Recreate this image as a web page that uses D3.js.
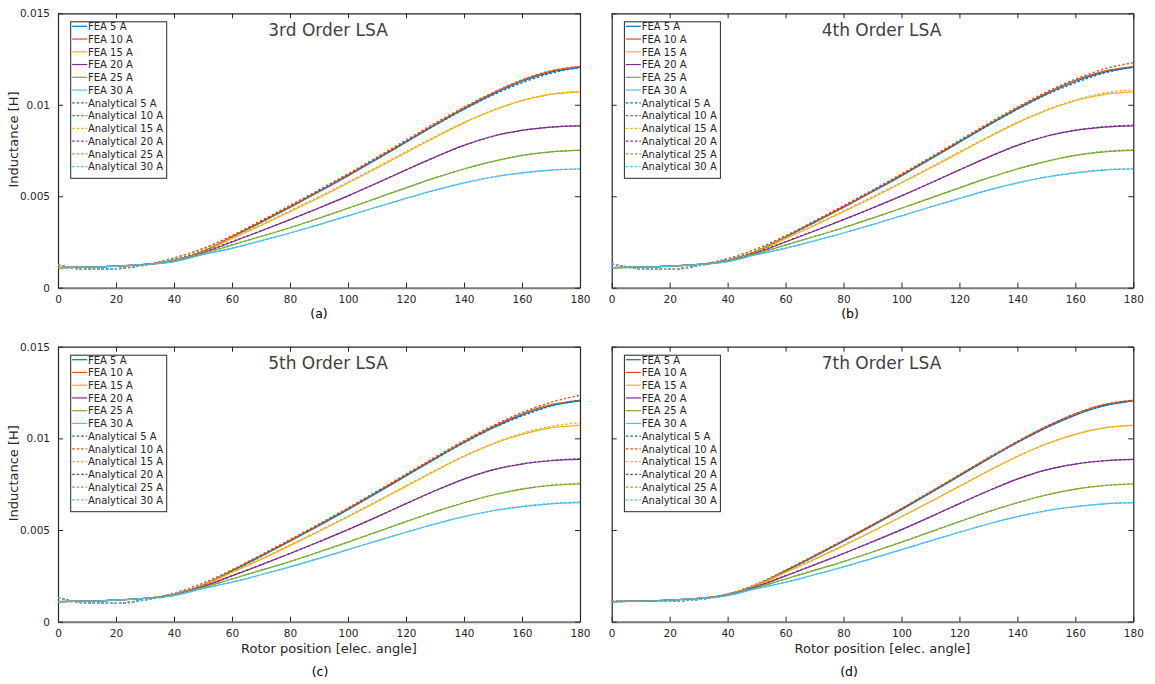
<!DOCTYPE html>
<html>
<head>
<meta charset="utf-8">
<script src="https://cdn.jsdelivr.net/npm/d3@7"></script>
<style>
  html, body { margin: 0; padding: 0; background: #fff; }
  svg { display: block; font-family: "DejaVu Sans", Verdana, sans-serif; }
</style>
</head>
<body>
<svg id="chart" width="1155" height="684"></svg>
<script>
// ---------------- DATA ----------------
const angles = [0,10,20,30,40,50,60,70,80,90,100,110,120,130,140,150,160,170,180];
const currents = ["5 A","10 A","15 A","20 A","25 A","30 A"];
const xTicks = [0,20,40,60,80,100,120,140,160,180];
const yTicks = [0,0.005,0.01,0.015];
const yTickLabels = ["0","0.005","0.01","0.015"];
const panelTitles = ["3rd Order LSA","4th Order LSA","5th Order LSA","7th Order LSA"];
const panelCaptions = ["(a)","(b)","(c)","(d)"];

// FEA inductance [H]
const fea5  = [0.00110,0.00112,0.00118,0.00128,0.00148,0.00198,0.00276,0.00356,0.00439,0.00524,0.00611,0.00702,0.00795,0.00888,0.00977,0.01058,0.01127,0.01178,0.01204];
const fea10 = [0.00110,0.00112,0.00118,0.00128,0.00148,0.00200,0.00279,0.00360,0.00443,0.00528,0.00616,0.00707,0.00800,0.00893,0.00982,0.01064,0.01134,0.01184,0.01208];
const fea15 = [0.00110,0.00112,0.00118,0.00128,0.00147,0.00196,0.00268,0.00340,0.00415,0.00492,0.00572,0.00654,0.00738,0.00822,0.00901,0.00969,0.01022,0.01057,0.01071];
const fea20 = [0.00110,0.00112,0.00118,0.00127,0.00145,0.00190,0.00250,0.00310,0.00372,0.00436,0.00502,0.00572,0.00644,0.00714,0.00778,0.00828,0.00860,0.00878,0.00885];
const fea25 = [0.00110,0.00112,0.00118,0.00127,0.00143,0.00185,0.00233,0.00280,0.00328,0.00380,0.00434,0.00490,0.00546,0.00600,0.00649,0.00691,0.00723,0.00743,0.00751];
const fea30 = [0.00110,0.00112,0.00118,0.00127,0.00142,0.00180,0.00215,0.00256,0.00299,0.00345,0.00393,0.00441,0.00488,0.00533,0.00573,0.00605,0.00628,0.00643,0.00649];

// Analytical, 3rd order LSA
const an3_5  = [0.00124,0.00102,0.00104,0.00125,0.00162,0.00212,0.00281,0.00362,0.00446,0.00532,0.00619,0.00708,0.00798,0.00888,0.00975,0.01054,0.01120,0.01172,0.01204];
const an3_10 = [0.00124,0.00102,0.00104,0.00125,0.00162,0.00214,0.00285,0.00367,0.00450,0.00535,0.00623,0.00714,0.00807,0.00900,0.00987,0.01067,0.01136,0.01186,0.01209];
const an3_15 = [0.00124,0.00102,0.00104,0.00125,0.00160,0.00208,0.00273,0.00346,0.00421,0.00498,0.00578,0.00660,0.00744,0.00826,0.00904,0.00971,0.01024,0.01059,0.01073];
const an3_20 = [0.00124,0.00102,0.00104,0.00124,0.00155,0.00196,0.00252,0.00311,0.00372,0.00436,0.00502,0.00572,0.00644,0.00714,0.00778,0.00828,0.00860,0.00878,0.00886];
const an3_25 = [0.00124,0.00102,0.00104,0.00124,0.00152,0.00190,0.00235,0.00281,0.00328,0.00380,0.00434,0.00490,0.00546,0.00600,0.00649,0.00691,0.00723,0.00743,0.00752];
const an3_30 = [0.00124,0.00102,0.00104,0.00124,0.00150,0.00185,0.00217,0.00257,0.00299,0.00345,0.00393,0.00441,0.00488,0.00533,0.00573,0.00605,0.00628,0.00643,0.00650];

// Analytical, 4th order LSA
const an4_5  = [0.00132,0.00104,0.00100,0.00122,0.00158,0.00210,0.00280,0.00361,0.00445,0.00531,0.00618,0.00708,0.00798,0.00888,0.00975,0.01055,0.01120,0.01174,0.01206];
const an4_10 = [0.00132,0.00104,0.00100,0.00122,0.00158,0.00212,0.00284,0.00366,0.00449,0.00534,0.00622,0.00713,0.00806,0.00899,0.00988,0.01070,0.01140,0.01196,0.01230];
const an4_15 = [0.00132,0.00104,0.00100,0.00122,0.00156,0.00206,0.00272,0.00345,0.00420,0.00497,0.00577,0.00659,0.00743,0.00826,0.00904,0.00972,0.01026,0.01064,0.01082];
const an4_20 = [0.00132,0.00104,0.00100,0.00121,0.00152,0.00195,0.00252,0.00311,0.00372,0.00436,0.00502,0.00572,0.00644,0.00714,0.00778,0.00828,0.00861,0.00880,0.00888];
const an4_25 = [0.00132,0.00104,0.00100,0.00121,0.00150,0.00189,0.00234,0.00281,0.00328,0.00380,0.00434,0.00490,0.00546,0.00600,0.00649,0.00691,0.00724,0.00745,0.00754];
const an4_30 = [0.00132,0.00104,0.00100,0.00121,0.00148,0.00184,0.00217,0.00257,0.00299,0.00345,0.00393,0.00441,0.00488,0.00533,0.00573,0.00605,0.00629,0.00645,0.00652];

// Analytical, 5th order LSA
const an5_5  = [0.00131,0.00102,0.00100,0.00120,0.00155,0.00208,0.00280,0.00361,0.00445,0.00530,0.00617,0.00707,0.00798,0.00888,0.00976,0.01056,0.01122,0.01176,0.01208];
const an5_10 = [0.00131,0.00102,0.00100,0.00120,0.00155,0.00210,0.00283,0.00365,0.00448,0.00533,0.00621,0.00712,0.00805,0.00898,0.00988,0.01070,0.01141,0.01197,0.01235];
const an5_15 = [0.00131,0.00102,0.00100,0.00120,0.00153,0.00204,0.00271,0.00344,0.00419,0.00496,0.00576,0.00658,0.00742,0.00825,0.00904,0.00972,0.01027,0.01066,0.01085];
const an5_20 = [0.00131,0.00102,0.00100,0.00119,0.00150,0.00194,0.00251,0.00311,0.00372,0.00436,0.00502,0.00572,0.00644,0.00714,0.00778,0.00828,0.00861,0.00880,0.00889];
const an5_25 = [0.00131,0.00102,0.00100,0.00119,0.00148,0.00188,0.00234,0.00281,0.00328,0.00380,0.00434,0.00490,0.00546,0.00600,0.00649,0.00691,0.00724,0.00745,0.00755];
const an5_30 = [0.00131,0.00102,0.00100,0.00119,0.00146,0.00183,0.00217,0.00257,0.00299,0.00345,0.00393,0.00441,0.00488,0.00533,0.00573,0.00605,0.00629,0.00645,0.00653];

// Analytical, 7th order LSA
const an7_5  = [0.00112,0.00112,0.00113,0.00122,0.00150,0.00204,0.00278,0.00358,0.00441,0.00526,0.00613,0.00704,0.00797,0.00890,0.00978,0.01059,0.01128,0.01179,0.01205];
const an7_10 = [0.00112,0.00112,0.00113,0.00122,0.00150,0.00206,0.00281,0.00362,0.00445,0.00530,0.00618,0.00709,0.00802,0.00895,0.00984,0.01066,0.01135,0.01185,0.01209];
const an7_15 = [0.00112,0.00112,0.00113,0.00122,0.00149,0.00202,0.00270,0.00342,0.00417,0.00494,0.00574,0.00656,0.00740,0.00824,0.00902,0.00970,0.01023,0.01058,0.01072];
const an7_20 = [0.00112,0.00112,0.00113,0.00122,0.00147,0.00193,0.00251,0.00311,0.00372,0.00436,0.00502,0.00572,0.00644,0.00714,0.00778,0.00828,0.00860,0.00878,0.00885];
const an7_25 = [0.00112,0.00112,0.00113,0.00122,0.00146,0.00187,0.00234,0.00281,0.00328,0.00380,0.00434,0.00490,0.00546,0.00600,0.00649,0.00691,0.00723,0.00743,0.00751];
const an7_30 = [0.00112,0.00112,0.00113,0.00122,0.00145,0.00182,0.00216,0.00256,0.00299,0.00345,0.00393,0.00441,0.00488,0.00533,0.00573,0.00605,0.00628,0.00643,0.00649];

const feaSeries = [fea5, fea10, fea15, fea20, fea25, fea30];
const analyticalSeries = [
  [an3_5, an3_10, an3_15, an3_20, an3_25, an3_30],
  [an4_5, an4_10, an4_15, an4_20, an4_25, an4_30],
  [an5_5, an5_10, an5_15, an5_20, an5_25, an5_30],
  [an7_5, an7_10, an7_15, an7_20, an7_25, an7_30]
];

// ---------------- STYLE / LAYOUT ----------------
const colors = ["#0072BD","#D95319","#EDB120","#7E2F8E","#77AC30","#4DBEEE"];
const panels = [
  {l: 58,    r: 580,    t: 13.3,  b: 287.7, yLabels: true,  xTitle: false, capX: 319, capY: 318},
  {l: 611.7, r: 1133.3, t: 13.3,  b: 287.7, yLabels: false, xTitle: false, capX: 850, capY: 318},
  {l: 58,    r: 580,    t: 346.7, b: 621.7, yLabels: true,  xTitle: true,  capX: 320, capY: 676},
  {l: 611.7, r: 1133.3, t: 346.7, b: 621.7, yLabels: false, xTitle: true,  capX: 849, capY: 676}
];

const svg = d3.select("#chart");
const axisColor = "#262626";

panels.forEach((p, pi) => {
  const x = d3.scaleLinear().domain([0, 180]).range([p.l, p.r]);
  const y = d3.scaleLinear().domain([0, 0.015]).range([p.b, p.t]);
  const g = svg.append("g");

  const clipId = "clip" + pi;
  svg.append("clipPath").attr("id", clipId).append("rect")
    .attr("x", p.l).attr("y", p.t).attr("width", p.r - p.l).attr("height", p.b - p.t);

  // axes
  const styleAxis = sel => {
    sel.selectAll("path.domain").attr("stroke", axisColor).attr("stroke-width", 1.2);
    sel.selectAll(".tick line").attr("stroke", axisColor).attr("stroke-width", 1);
    sel.selectAll(".tick text").attr("fill", axisColor).attr("font-size", "10.5px")
      .attr("font-family", '"DejaVu Sans", Verdana, sans-serif');
  };
  g.append("g").attr("transform", `translate(0,${p.b})`)
    .call(d3.axisBottom(x).tickValues(xTicks).tickSizeInner(-5).tickSizeOuter(0).tickPadding(8).tickFormat(d3.format("d")))
    .call(styleAxis)
    .call(s => s.select("path.domain").attr("stroke", "#7a7a7a").attr("stroke-width", 2));
  g.append("g").attr("transform", `translate(0,${p.t})`)
    .call(d3.axisTop(x).tickValues(xTicks).tickSizeInner(-5).tickSizeOuter(0).tickFormat(""))
    .call(styleAxis);
  g.append("g").attr("transform", `translate(${p.l},0)`)
    .call(d3.axisLeft(y).tickValues(yTicks).tickSizeInner(-5).tickSizeOuter(0).tickPadding(8)
      .tickFormat((d, i) => p.yLabels ? yTickLabels[i] : ""))
    .call(styleAxis);
  g.append("g").attr("transform", `translate(${p.r},0)`)
    .call(d3.axisRight(y).tickValues(yTicks).tickSizeInner(-5).tickSizeOuter(0).tickFormat(""))
    .call(styleAxis);

  // lines
  const line = d3.line().x((d, i) => x(angles[i])).y(d => y(d)).curve(d3.curveMonotoneX);
  const plot = g.append("g").attr("clip-path", `url(#${clipId})`);
  feaSeries.forEach((s, i) => {
    plot.append("path").attr("d", line(s)).attr("fill", "none")
      .attr("stroke", colors[i]).attr("stroke-width", 1.2);
  });
  analyticalSeries[pi].forEach((s, i) => {
    plot.append("path").attr("d", line(s)).attr("fill", "none")
      .attr("stroke", colors[i]).attr("stroke-width", 1.4)
      .attr("stroke-dasharray", "2.2,2.2");
  });

  // title
  g.append("text").attr("x", (p.l + p.r) / 2 + 9).attr("y", p.t + 22.5)
    .attr("text-anchor", "middle").attr("font-size", "17px").attr("fill", "#404040")
    .text(panelTitles[pi]);

  // legend
  const lg = g.append("g").attr("transform", `translate(${p.l + 12.7},${p.t + 8.5})`);
  const rowH = 12.75;
  lg.append("rect").attr("x", 0).attr("y", 0).attr("width", 96).attr("height", 156.5)
    .attr("fill", "#fff").attr("stroke", axisColor).attr("stroke-width", 1);
  const labels = currents.map(c => "FEA " + c).concat(currents.map(c => "Analytical " + c));
  labels.forEach((lab, i) => {
    const cy = 4.5 + i * rowH;
    const ci = i % 6;
    lg.append("line").attr("x1", 1.5).attr("x2", 16.5).attr("y1", cy).attr("y2", cy)
      .attr("stroke", colors[ci]).attr("stroke-width", 1.2)
      .attr("stroke-dasharray", i >= 6 ? "2.5,2" : null);
    lg.append("text").attr("x", 17.3).attr("y", cy + 3.8).attr("font-size", "10px")
      .attr("fill", axisColor).text(lab);
  });

  // y-axis title
  if (p.yLabels) {
    g.append("text").attr("transform", `translate(${p.l - 40},${(p.t + p.b) / 2 - 11}) rotate(-90)`)
      .attr("text-anchor", "middle").attr("font-size", "13px").attr("fill", axisColor)
      .text("Inductance [H]");
  }
  // x-axis title
  if (p.xTitle) {
    g.append("text").attr("x", (p.l + p.r) / 2 + 10).attr("y", p.b + 31.5)
      .attr("text-anchor", "middle").attr("font-size", "13px").attr("fill", axisColor)
      .text("Rotor position [elec. angle]");
  }
  // caption
  g.append("text").attr("x", p.capX).attr("y", p.capY)
    .attr("text-anchor", "middle").attr("font-size", "12.5px").attr("fill", "#000")
    .text(panelCaptions[pi]);
});
</script>
</body>
</html>
